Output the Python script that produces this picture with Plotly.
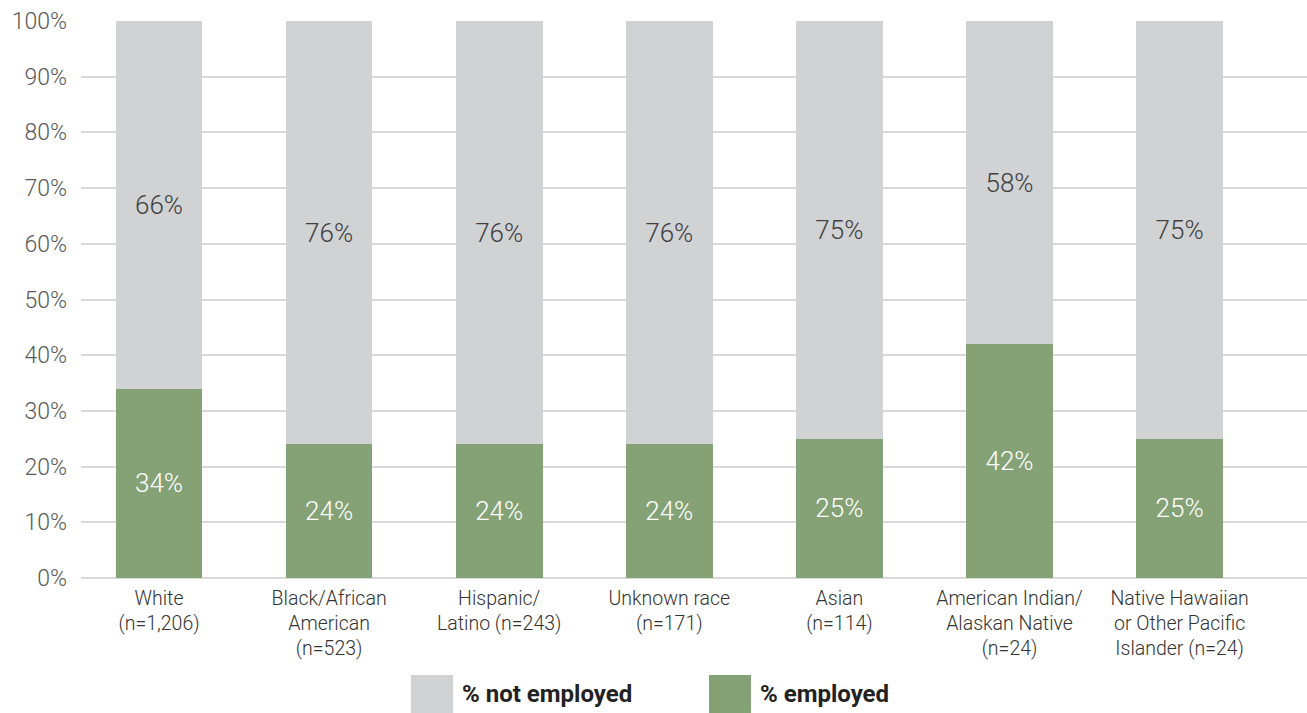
import plotly.graph_objects as go

categories = ["White<br>(n=1,206)", "Black/African<br>American<br>(n=523)", "Hispanic/<br>Latino (n=243)",
              "Unknown race<br>(n=171)", "Asian<br>(n=114)", "American Indian/<br>Alaskan Native<br>(n=24)",
              "Native Hawaiian<br>or Other Pacific<br>Islander (n=24)"]
employed = [34, 24, 24, 24, 25, 42, 25]
not_employed = [66, 76, 76, 76, 75, 58, 75]
y_ticks = [0, 10, 20, 30, 40, 50, 60, 70, 80, 90, 100]
series_names = ["% not employed", "% employed"]

GRAY = "#d1d2d4"
GREEN = "#85a277"
FONT = "Roboto"

x = list(range(len(categories)))

fig = go.Figure()
fig.add_trace(go.Bar(x=x, y=employed, name=series_names[1], marker=dict(color=GREEN, line=dict(width=0)),
                     width=0.51, texttemplate="%{y}%", textposition="inside", insidetextanchor="middle",
                     textangle=0, textfont=dict(family=FONT, size=26, color="white", weight=300),
                     showlegend=False, hoverinfo="skip"))
fig.add_trace(go.Bar(x=x, y=not_employed, name=series_names[0], marker=dict(color=GRAY, line=dict(width=0)),
                     width=0.51, texttemplate="%{y}%", textposition="inside", insidetextanchor="middle",
                     textangle=0, textfont=dict(family=FONT, size=26, color="#404040", weight=300),
                     showlegend=False, hoverinfo="skip"))

fig.update_layout(
    barmode="stack",
    width=1307, height=713,
    margin=dict(l=81, r=0, t=21, b=135),
    paper_bgcolor="white", plot_bgcolor="white",
    font=dict(family=FONT, weight=300),
    xaxis=dict(range=[-0.4586, 6.749], tickmode="array", tickvals=x, ticktext=categories,
               tickfont=dict(family=FONT, size=19.5, color="#333333", weight=300),
               showgrid=False, zeroline=False, showline=False, ticks="", ticklabelstandoff=6),
    yaxis=dict(range=[0, 100], tickmode="array", tickvals=y_ticks, ticktext=[f"{v}%" for v in y_ticks],
               tickfont=dict(family=FONT, size=23, color="#595959", weight=300),
               showgrid=True, gridcolor="#d9d9d9", gridwidth=1.5, zeroline=True, zerolinecolor="#d9d9d9",
               zerolinewidth=1.5, showline=False, ticks="", ticklabelstandoff=13),
)

# custom legend (large swatches)
legend_items = [(series_names[0], GRAY, 411), (series_names[1], GREEN, 709)]
for name, col, px in legend_items:
    fig.add_shape(type="rect", xref="paper", yref="paper",
                  x0=(px - 81) / 1226, x1=(px + 42 - 81) / 1226,
                  y0=(578 - 716) / 557, y1=(578 - 675) / 557,
                  fillcolor=col, line=dict(width=0))
    fig.add_annotation(xref="paper", yref="paper", x=(px + 49 - 81) / 1226, y=(578 - 694) / 557,
                       text=name, showarrow=False, xanchor="left", yanchor="middle",
                       font=dict(family=FONT, size=24, color="#222222", weight=700))

fig.write_html("out.html", config={"displayModeBar": False},
               post_script="document.body.style.margin='0';document.body.style.overflow='hidden';")
